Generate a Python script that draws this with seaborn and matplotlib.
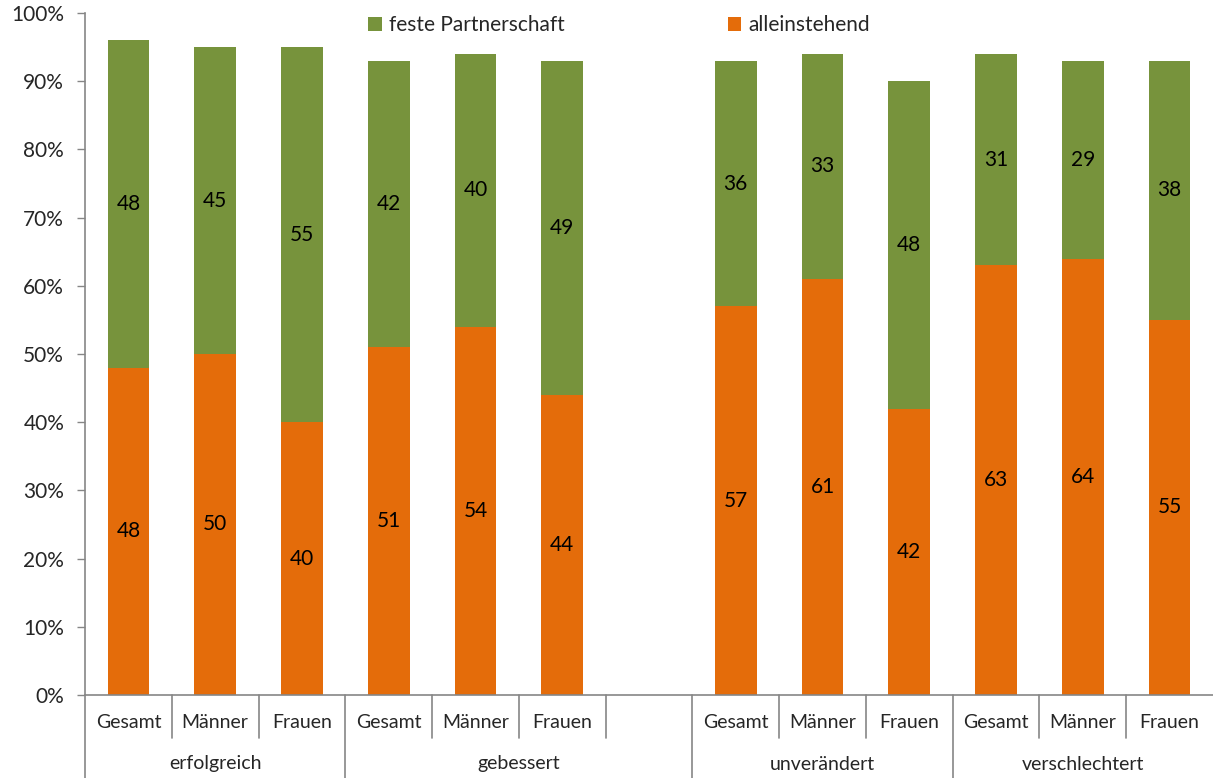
import matplotlib
matplotlib.use("Agg")
import matplotlib.pyplot as plt
import matplotlib.transforms as mtransforms
from matplotlib.patches import Patch
import pandas as pd
import seaborn as sns

# Outcome groups, subgroups and stacked shares (percent)
groups = ["erfolgreich", "gebessert", "unverändert", "verschlechtert"]
subgroups = ["Gesamt", "Männer", "Frauen"]
alleinstehend = [48, 50, 40, 51, 54, 44, 57, 61, 42, 63, 64, 55]
partnerschaft = [48, 45, 55, 42, 40, 49, 36, 33, 48, 31, 29, 38]
y_ticks = [0, 10, 20, 30, 40, 50, 60, 70, 80, 90, 100]
series_names = ["feste Partnerschaft", "alleinstehend"]

GREEN = "#77933C"
ORANGE = "#E46C0A"
GRAY = "#868686"

sns.set_style("white")
plt.rcParams["font.family"] = ["Lato", "DejaVu Sans"]

# Build slot order: a blank slot sits between "gebessert" and "unverändert"
rows = []
order = []
i = 0
for g in groups:
    for s in subgroups:
        key = f"{g}|{s}"
        order.append(key)
        rows.append({"slot": key, "group": g, "sub": s,
                     "allein": alleinstehend[i], "partner": partnerschaft[i]})
        i += 1
    if g == "gebessert":
        order.append("gap")
df = pd.DataFrame(rows)
df["total"] = df["allein"] + df["partner"]

fig = plt.figure(figsize=(12.13, 7.78), dpi=100)
ax = fig.add_axes([85 / 1213, 1 - 695 / 778, 1128 / 1213, 682 / 778])

sns.barplot(data=df, x="slot", y="total", order=order, color=GREEN,
            width=0.48, saturation=1, ax=ax, linewidth=0)
sns.barplot(data=df, x="slot", y="allein", order=order, color=ORANGE,
            width=0.48, saturation=1, ax=ax, linewidth=0)

pos = {k: j for j, k in enumerate(order)}
for _, r in df.iterrows():
    x = pos[r["slot"]]
    ax.text(x, r["allein"] / 2, f"{r['allein']}", ha="center", va="center",
            fontsize=15, color="black")
    ax.text(x, r["allein"] + r["partner"] / 2, f"{r['partner']}", ha="center",
            va="center", fontsize=15, color="black")

ax.set_xlim(-0.5, len(order) - 0.5)
ax.set_ylim(0, 100)
ax.set_yticks(y_ticks)
ax.set_yticklabels([f"{v}%" for v in y_ticks], fontsize=15)
ax.set_xticks([])
ax.set_xlabel("")
ax.set_ylabel("")
ax.tick_params(axis="y", direction="out", length=6, width=1, color=GRAY,
               left=True, pad=9)
for side in ["top", "right"]:
    ax.spines[side].set_visible(False)
for side in ["left", "bottom"]:
    ax.spines[side].set_color(GRAY)
    ax.spines[side].set_linewidth(1.2)

# Two-level category axis with separators
trans = mtransforms.blended_transform_factory(ax.transData, ax.transAxes)
short_y = -43 / 682
long_y = -83 / 682
lvl1_y = -27 / 682
lvl2_y = -69 / 682

for key, x in pos.items():
    if key != "gap":
        ax.text(x, lvl1_y, key.split("|")[1], transform=trans, ha="center",
                va="center", fontsize=14)

# boundaries of each group (gebessert spans the blank slot too)
group_bounds = [(-0.5, 2.5), (2.5, 6.5), (6.5, 9.5), (9.5, 12.5)]
for g, (a, b) in zip(groups, group_bounds):
    ax.text((a + b) / 2, lvl2_y, g, transform=trans, ha="center",
            va="center", fontsize=14)
long_lines = [-0.5, 2.5, 6.5, 9.5]
for b in [x + 0.5 for x in range(len(order) - 1)]:
    if b in long_lines:
        continue
    ax.plot([b, b], [0, short_y], transform=trans, color=GRAY, lw=1.2,
            clip_on=False)
for b in long_lines:
    ax.plot([b, b], [0, long_y - 0.01], transform=trans, color=GRAY, lw=1.2,
            clip_on=False)

handles = [Patch(facecolor=GREEN, edgecolor="none"),
           Patch(facecolor=ORANGE, edgecolor="none")]
fig.legend(handles, series_names, loc="center left",
           bbox_to_anchor=(368 / 1213, 1 - 25 / 778), ncol=2, frameon=False,
           fontsize=15, handlelength=0.67, handleheight=0.67,
           handletextpad=0.35, columnspacing=7.8, borderaxespad=0,
           borderpad=0)

fig.savefig("out.png", dpi=100)
